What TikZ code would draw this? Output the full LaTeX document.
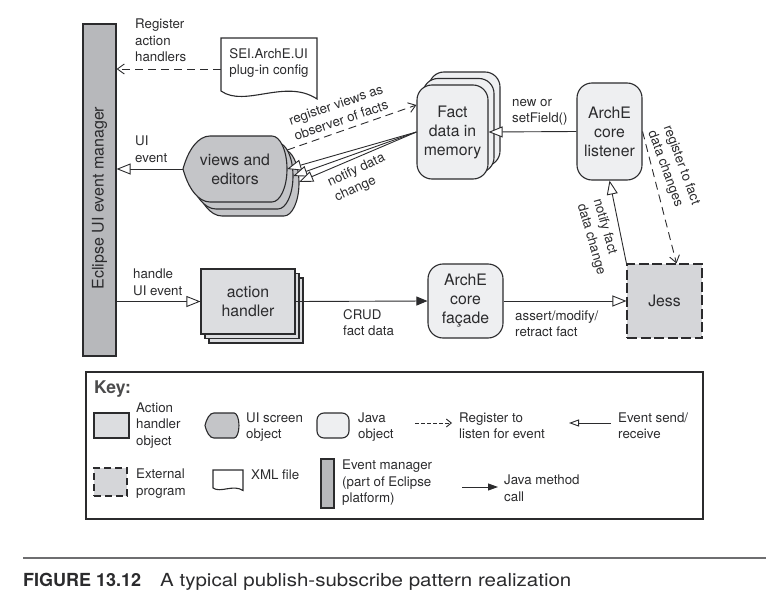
\documentclass[tikz,border=0pt]{standalone}
\usepackage{fontspec}
\setmainfont{TeX Gyre Heros}
\usepackage{graphicx}
\usetikzlibrary{arrows.meta,shadows}

\definecolor{ink}{HTML}{2B2B2D}
\definecolor{barfill}{HTML}{B7B8BB}
\definecolor{viewfill}{HTML}{C4C5C8}
\definecolor{handfill}{HTML}{DCDDE0}
\definecolor{javafill}{HTML}{EEEFF1}
\definecolor{extfill}{HTML}{D5D6D9}
\definecolor{rulegray}{HTML}{6E6E70}

\newcommand{\lblfont}{\fontsize{13.3}{16.5}\selectfont}
\newcommand{\boxfont}{\fontsize{15.8}{19}\selectfont}
\newcommand{\uishape}[4]{(#1-#3,#2) .. controls (#1-0.9*#3,#2-0.58*#4) and (#1-0.71*#3,#2-#4) .. (#1-0.48*#3,#2-#4) -- (#1+0.71*#3,#2-#4) arc[start angle=-90,end angle=90,x radius=0.29*#3,y radius=#4] -- (#1-0.48*#3,#2+#4) .. controls (#1-0.71*#3,#2+#4) and (#1-0.9*#3,#2+0.58*#4) .. (#1-#3,#2) -- cycle}
\newcommand{\docpath}[4]{(#1,#2) -- (#1+#3,#2) -- (#1+#3,#2+#4+0.083*#3) .. controls (#1+0.67*#3,#2+#4-0.135*#3) and (#1+0.25*#3,#2+#4+0.177*#3) .. (#1,#2+#4) -- cycle}

\tikzset{
  lbl/.style={font=\lblfont, align=left, text=ink, inner sep=0pt},
  boxtxt/.style={font=\boxfont, align=center, text=ink, inner sep=0pt},
  javaobj/.style={draw=ink, fill=javafill, line width=1.1pt, rounded corners=15pt, boxtxt},
  handlerobj/.style={draw=ink, fill=handfill, line width=1.1pt, boxtxt},
  extprog/.style={draw=ink, fill=extfill, line width=1.1pt, dash pattern=on 10pt off 3.5pt, boxtxt},
  uiscreen/.style={draw=ink, fill=viewfill, line width=1.1pt},
  xmlfile/.style={draw=ink, fill=white, line width=1.1pt},
  evmgr/.style={draw=ink, fill=barfill, line width=1.1pt, inner sep=0pt},
  event/.style={draw=ink, line width=0.9pt, -{Triangle[fill=white, length=14pt, width=11pt]}},
  call/.style={draw=ink, line width=0.9pt, -{Triangle[length=11pt, width=9pt]}},
  listen/.style={draw=ink, line width=0.9pt, dash pattern=on 8pt off 5pt, -{Straight Barb[length=7pt, width=10pt]}},
}

\begin{document}
\begin{tikzpicture}[x=1pt,y=-1pt]
\useasboundingbox (0,0) rectangle (766,602);

\node[evmgr, minimum width=33pt, minimum height=332pt] (ecl) at (99.5,190) {};
\node[font=\fontsize{16}{19}\selectfont, text=ink, rotate=90, inner sep=0pt] (ecltext) at (99.5,198) {Eclipse UI event manager};

\draw[xmlfile] \docpath{221}{38}{96}{53};
\node[lbl, minimum width=96pt] (doc) at (269,63) {SEI.ArchE.UI\\plug-in config};
\coordinate (docin) at ([yshift=-6pt]doc.west);

\draw[uiscreen, copy shadow={shadow xshift=12pt, shadow yshift=-14pt, fill=viewfill, draw=ink, line width=1.1pt}, copy shadow={shadow xshift=6pt, shadow yshift=-7pt, fill=viewfill, draw=ink, line width=1.1pt}] \uishape{235}{169}{52}{33};
\node[boxtxt, minimum width=104pt, minimum height=66pt] (views) at (235,169) {views and\\editors};

\node[javaobj, minimum width=71pt, minimum height=94pt, copy shadow={shadow xshift=12pt, shadow yshift=13pt, fill=javafill, draw=ink, line width=1.1pt}, copy shadow={shadow xshift=6pt, shadow yshift=6.5pt, fill=javafill, draw=ink, line width=1.1pt}] (fact) at (452.5,132) {Fact\\data in\\memory};
\node[javaobj, minimum width=65pt, minimum height=97pt] (listener) at (609.5,131.5) {ArchE\\core\\listener};
\node[handlerobj, minimum width=94pt, minimum height=65pt, copy shadow={shadow xshift=8pt, shadow yshift=-9pt, fill=handfill, draw=ink, line width=1.1pt}, copy shadow={shadow xshift=4pt, shadow yshift=-4.5pt, fill=handfill, draw=ink, line width=1.1pt}] (handler) at (248,301.5) {action\\handler};
\node[javaobj, minimum width=75pt, minimum height=74pt] (facade) at (465.5,301) {ArchE\\core\\façade};
\node[extprog, minimum width=75pt, minimum height=74pt] (jess) at (664.5,301) {Jess};

\draw[listen] (docin) -- (docin -| ecl.east);
\draw[event] (views.west) -- (views.west -| ecl.east);
\draw[listen] (views.20) -- ([yshift=27pt]fact.west);
\draw[event] (fact.west) -- (views.east);
\draw[event] (fact.west) -- ([shift={(6pt,-7pt)}]views.east);
\draw[event] (fact.west) -- ([shift={(12pt,-13pt)}]views.east);
\draw[event] (listener.west) -- (fact.east);
\draw[event] (jess.north west) -- (listener.south);
\draw[listen] (listener.east) -- ([xshift=12pt]jess.north);
\draw[event] (ecl.east |- handler.west) -- (handler.west);
\draw[call] (handler.east) -- (facade.west);
\draw[event] (facade.east) -- (jess.west);

\node[lbl, anchor=west] (lreg) at (135,40.5) {Register\\action\\handlers};
\node[lbl, anchor=west] (luiev) at (135,149.5) {UI\\event};
\node[lbl, rotate=19] (lobs) at (338.5,112.5) {register views as\\observer of facts};
\node[lbl, rotate=25] (lnotify) at (360,178) {notify data\\change};
\node[lbl, anchor=west] (lnew) at (512,112.5) {new or\\setField()};
\node[lbl, rotate=-74] (lnfd) at (599,237) {notify fact\\data change};
\node[lbl, rotate=-70] (lrfd) at (673.5,168) {register to fact\\data changes};
\node[lbl, anchor=west] (lhandle) at (133,282.5) {handle\\UI event};
\node[lbl, anchor=west] (lcrud) at (343,322.5) {CRUD\\fact data};
\node[lbl, anchor=west] (lassert) at (515,323.5) {assert/modify/\\retract fact};

\node[draw=ink, line width=1.1pt, minimum width=617pt, minimum height=147pt, inner sep=0pt] (key) at (394.5,445.5) {};
\node[font=\fontsize{17.5}{20}\selectfont\bfseries, text=ink!85, anchor=west, inner sep=0pt] (keytitle) at (94,389) {Key:};

\node[handlerobj, minimum width=35pt, minimum height=25pt] (kah) at (111.5,425.5) {};
\node[lbl, anchor=west] (kaht) at (136,425.5) {Action\\handler\\object};
\draw[uiscreen] \uishape{222}{425.5}{17}{12.5};
\node[lbl, anchor=west] (kuit) at (246,427) {UI screen\\object};
\node[javaobj, rounded corners=7pt, minimum width=32pt, minimum height=25pt] (kjava) at (333,425.5) {};
\node[lbl, anchor=west] (kjavat) at (358,427) {Java\\object};
\coordinate (kl1) at (415,423);
\coordinate (kl2) at (452,423);
\draw[listen, dash pattern=on 3.5pt off 2.5pt, -{Straight Barb[length=5pt, width=8pt]}] (kl1) -- (kl2);
\node[lbl, anchor=west] (klt) at (459,425.5) {Register to\\listen for event};
\coordinate (ke1) at (611,423);
\coordinate (ke2) at (569,423);
\draw[event, -{Triangle[fill=white, length=10pt, width=7pt]}] (ke1) -- (ke2);
\node[lbl, anchor=west] (ket) at (618,425.5) {Event send/\\receive};

\node[extprog, dash pattern=on 7pt off 4pt, minimum width=33pt, minimum height=28pt] (kext) at (110.5,482) {};
\node[lbl, anchor=west] (kextt) at (136,483.5) {External\\program};
\draw[xmlfile] \docpath{213}{470}{30}{18};
\node[lbl, anchor=west] (kxmlt) at (251,475) {XML file};
\node[evmgr, minimum width=13pt, minimum height=49pt] (kbar) at (327.5,483.5) {};
\node[lbl, anchor=west] (kbart) at (342,483) {Event manager\\(part of Eclipse\\platform)};
\coordinate (kc1) at (462,487);
\coordinate (kc2) at (498,487);
\draw[call, -{Triangle[length=10pt, width=7pt]}] (kc1) -- (kc2);
\node[lbl, anchor=west] (kct) at (504,488) {Java method\\call};

\draw[rulegray, line width=1.6pt] (23,558) -- (766,558);
\node[anchor=base west, inner sep=0pt, font=\fontsize{18}{20}\selectfont\bfseries, text=ink] (fignum) at (23,586) {FIGURE 13.12};
\node[anchor=base west, inner sep=0pt, font=\fontsize{18}{20}\selectfont, text=ink] (figcap) at (160,586) {\scalebox{1.14}[1]{A typical publish-subscribe pattern realization}};
\end{tikzpicture}
\end{document}
